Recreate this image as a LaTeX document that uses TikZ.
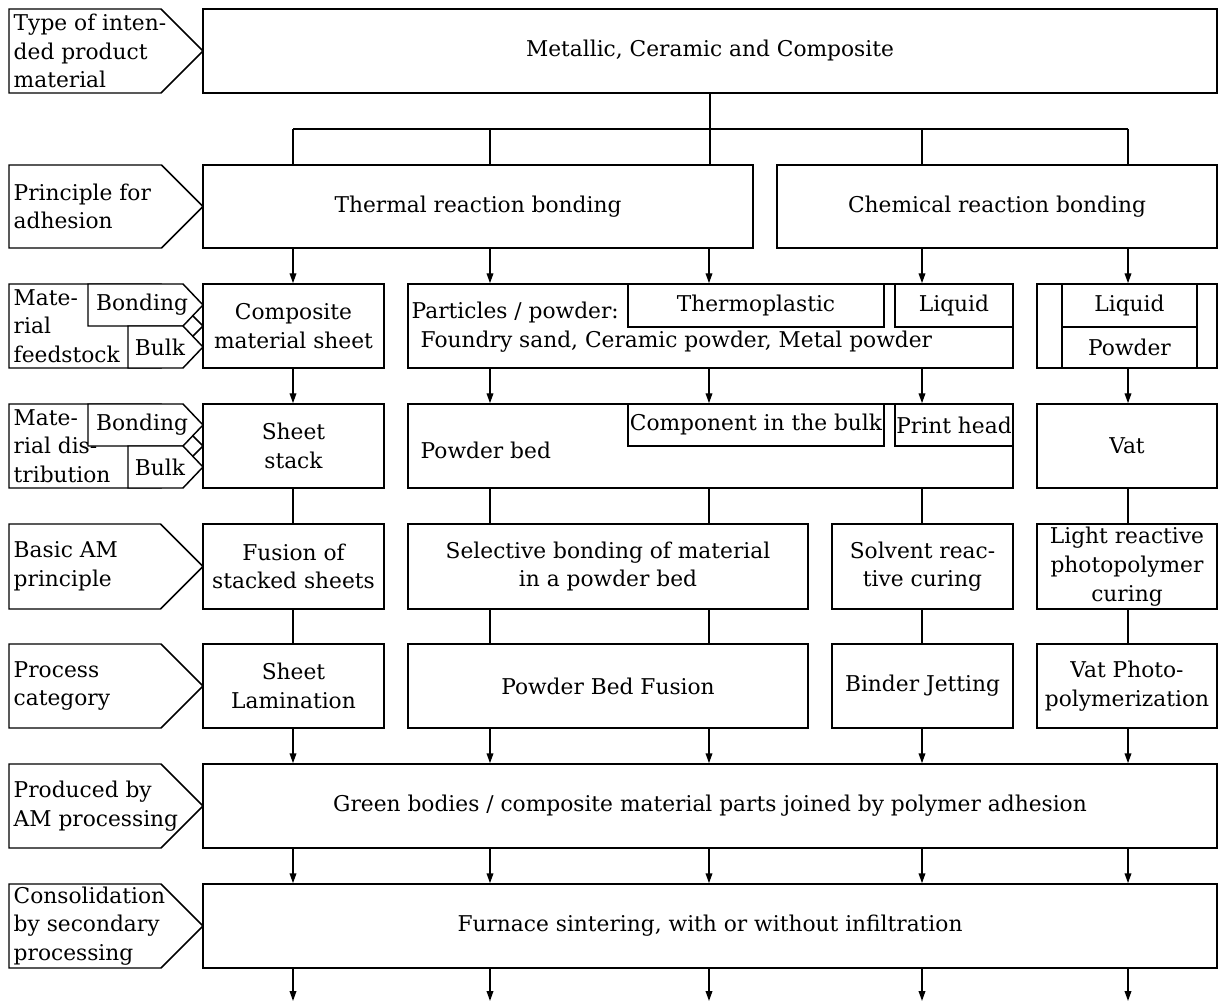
\documentclass[tikz,border=0pt]{standalone}
\usepackage{fontspec}
\setmainfont{DejaVu Serif}
\usetikzlibrary{arrows.meta,calc}
\newcommand\boxfont{\fontsize{16.3}{21.5}\selectfont}

\begin{document}
\begin{tikzpicture}[x=0.75pt, y=-0.75pt, line width=1.1pt,
    arr/.style={-{Triangle[length=7.5pt,width=5pt]}},
    wh/.style 2 args={minimum width=#1*0.75pt, minimum height=#2*0.75pt},
    box/.style={draw, fill=white, inner sep=0pt, align=center, font=\boxfont},
    lbl/.style={draw, fill=white},
    txt/.style={inner sep=0pt, align=left, font=\boxfont}
  ]
  \useasboundingbox (0,0) rectangle (1221,1005);

  % row labels on the left
  \foreach \t/\b/\nm/\txt in {9/93/lmat/{Type of inten-\\ded product\\material},
      165/248/lad/{Principle for\\adhesion},
      284/368/lfeed/{Mate-\\rial\\feedstock},
      404/488/ldist/{Mate-\\rial dis-\\tribution},
      524/609/lbas/{Basic AM\\principle},
      644/728/lcat/{Process\\category},
      764/848/lprod/{Produced by\\AM processing},
      884/968/lcons/{Consolidation\\by secondary\\processing}}{
    \draw[lbl] (9,\t) -- ({203-(\b-\t)/2},\t) -- (203,{(\t+\b)/2})
      -- ({203-(\b-\t)/2},\b) -- (9,\b) -- cycle;
    \node[txt, anchor=west] (\nm) at (13,{(\t+\b)/2}) {\txt};
  }
  % bonding / bulk tabs
  \foreach \t/\nm in {284/f, 404/d}{
    \draw[lbl] (88,\t) -- (183,\t) -- (203,\t+21) -- (183,\t+42) -- (88,\t+42) -- cycle;
    \draw[lbl] (128,\t+42) -- (183,\t+42) -- (203,\t+63) -- (183,\t+84) -- (128,\t+84) -- cycle;
    \node[txt] (bond\nm) at (142,\t+21) {Bonding};
    \node[txt] (bulk\nm) at (160,\t+63) {Bulk};
  }

  % boxes
  \node[box, wh={1014}{84}] (mat) at (710,51) {Metallic, Ceramic and Composite};
  \node[box, wh={550}{83}] (therm) at (478,206.5) {Thermal reaction bonding};
  \node[box, wh={440}{83}] (chem) at (997,206.5) {Chemical reaction bonding};

  \node[box, wh={181}{84}] (cms) at (293.5,326) {Composite\\material sheet};
  \node[box, wh={605}{84}] (part) at (710.5,326) {};
  \node[txt, anchor=west] (ptxt) at (411,313) {Particles / powder:};
  \node[txt, anchor=west] (ftxt) at (420,342) {Foundry sand, Ceramic powder, Metal powder};
  \node[box, wh={256}{43}] (thermo) at (756,305.5) {Thermoplastic};
  \node[box, wh={118}{43}] (liq1) at (954,305.5) {Liquid};
  \node[box, wh={180}{84}] (vfeed) at (1127,326) {};
  \node[box, wh={135}{43}] (liq2) at (1129.5,305.5) {Liquid};
  \node[box, wh={135}{41}] (pow) at (1129.5,347.5) {Powder};

  \node[box, wh={181}{84}] (stack) at (293.5,446) {Sheet\\stack};
  \node[box, wh={605}{84}] (bed) at (710.5,446) {};
  \node[txt, anchor=west] (btxt) at (420,450) {Powder bed};
  \node[box, wh={256}{42}] (comp) at (756,425) {Component in the bulk};
  \node[box, wh={118}{42}] (head) at (954,425) {Print head};
  \node[box, wh={180}{84}] (vat) at (1127,446) {Vat};

  \node[box, wh={181}{85}] (fus) at (293.5,566.5) {Fusion of\\stacked sheets};
  \node[box, wh={400}{85}] (sel) at (608,566.5) {Selective bonding of material\\in a powder bed};
  \node[box, wh={181}{85}] (solv) at (922.5,566.5) {Solvent reac-\\tive curing};
  \node[box, wh={180}{85}] (light) at (1127,566.5) {Light reactive\\photopolymer\\curing};

  \node[box, wh={181}{84}] (lam) at (293.5,686) {Sheet\\Lamination};
  \node[box, wh={400}{84}] (pbf) at (608,686) {Powder Bed Fusion};
  \node[box, wh={181}{84}] (bj) at (922.5,686) {Binder Jetting};
  \node[box, wh={180}{84}] (vpp) at (1127,686) {Vat Photo-\\polymerization};

  \node[box, wh={1014}{84}] (green) at (710,806) {Green bodies / composite material parts joined by polymer adhesion};
  \node[box, wh={1014}{84}] (furn) at (710,926) {Furnace sintering, with or without infiltration};

  % columns
  \coordinate (c1) at (293,0);
  \coordinate (c2) at (490,0);
  \coordinate (c3) at (709,0);
  \coordinate (c4) at (922,0);
  \coordinate (c5) at (1128,0);
  \coordinate (hub) at (710,129);
  \coordinate (out) at (0,1001);

  % connectors
  \draw (mat.south) -- (mat.south |- therm.north);
  \draw (c1 |- hub) -- (c5 |- hub);
  \foreach \c in {c1,c2} \draw (\c |- hub) -- (\c |- therm.north);
  \foreach \c in {c4,c5} \draw (\c |- hub) -- (\c |- chem.north);

  \foreach \c/\d in {c1/cms, c2/part, c3/thermo}
    \draw[arr] (\c |- therm.south) -- (\c |- \d.north);
  \foreach \c/\d in {c4/liq1, c5/liq2}
    \draw[arr] (\c |- chem.south) -- (\c |- \d.north);
  \foreach \c/\s/\d in {c1/cms/stack, c2/part/bed, c3/part/comp, c4/part/head, c5/vfeed/vat}
    \draw[arr] (\c |- \s.south) -- (\c |- \d.north);
  \foreach \c/\s/\d in {c1/stack/fus, c2/bed/sel, c3/bed/sel, c4/bed/solv, c5/vat/light}
    \draw (\c |- \s.south) -- (\c |- \d.north);
  \foreach \c/\s/\d in {c1/fus/lam, c2/sel/pbf, c3/sel/pbf, c4/solv/bj, c5/light/vpp}
    \draw (\c |- \s.south) -- (\c |- \d.north);
  \foreach \c/\s in {c1/lam, c2/pbf, c3/pbf, c4/bj, c5/vpp}
    \draw[arr] (\c |- \s.south) -- (\c |- green.north);
  \foreach \c in {c1,c2,c3,c4,c5}{
    \draw[arr] (\c |- green.south) -- (\c |- furn.north);
    \draw[arr] (\c |- furn.south) -- (\c |- out);
  }
\end{tikzpicture}
\end{document}
